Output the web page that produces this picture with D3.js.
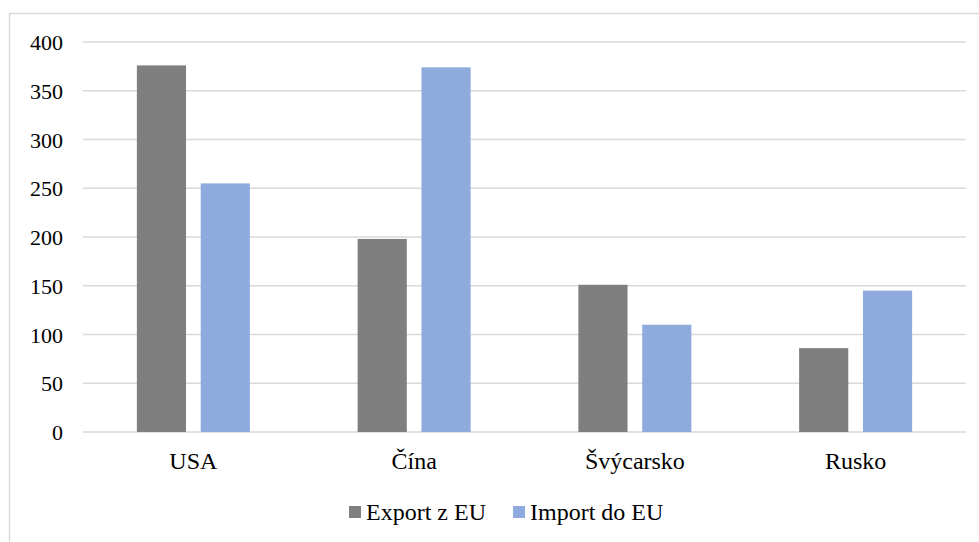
<!DOCTYPE html>
<html>
<head>
<meta charset="utf-8">
<script src="https://cdn.jsdelivr.net/npm/d3@7"></script>
<style>
  body { margin: 0; background: #fff; }
</style>
</head>
<body>
<svg id="canvas"></svg>
<script>
const categories = ['USA', 'Čína', 'Švýcarsko', 'Rusko'];
const seriesNames = ['Export z EU', 'Import do EU'];
const exportValues = [376, 198, 151, 86];
const importValues = [255, 374, 110, 145];
const yTicks = [0, 50, 100, 150, 200, 250, 300, 350, 400];

const width = 979;
const height = 542;
const plot = { left: 83, right: 966, top: 42, bottom: 432 };
const colors = ['#7f7f7f', '#8faadc'];
const fontFamily = 'Liberation Serif';

const svg = d3.select('#canvas')
    .attr('width', width)
    .attr('height', height);

// chart area border (cropped on the right and bottom)
svg.append('path')
    .attr('d', 'M9.5,' + (height + 2) + ' V13.5 H' + (width + 2))
    .attr('fill', 'none')
    .attr('stroke', '#d9d9d9')
    .attr('stroke-width', 1.5);

const xScale = d3.scaleBand()
    .domain(categories)
    .range([plot.left, plot.right]);

const innerScale = d3.scaleBand()
    .domain(seriesNames)
    .range([0, 113])
    .paddingInner(0.23);

const yScale = d3.scaleLinear()
    .domain([0, 400])
    .range([plot.bottom, plot.top]);

// gridlines
svg.append('g')
    .selectAll('line')
    .data(yTicks)
    .enter()
    .append('line')
    .attr('x1', plot.left)
    .attr('x2', plot.right)
    .attr('y1', d => yScale(d))
    .attr('y2', d => yScale(d))
    .attr('stroke', '#d9d9d9')
    .attr('stroke-width', 1.5);

// y labels
svg.selectAll('text.ylab')
    .data(yTicks)
    .enter()
    .append('text')
    .attr('class', 'ylab')
    .attr('x', 63)
    .attr('y', d => yScale(d) + 8)
    .attr('text-anchor', 'end')
    .style('font-family', fontFamily)
    .style('font-size', '22px')
    .text(d => d);

// bars
const rows = categories.map((c, i) => ({ cat: c, values: [exportValues[i], importValues[i]] }));

const groups = svg.append('g')
    .selectAll('g')
    .data(rows)
    .enter()
    .append('g')
    .attr('transform', d => 'translate(' + (xScale(d.cat) + xScale.bandwidth() / 2 - 56.5) + ',0)');

groups.selectAll('rect')
    .data(d => d.values.map((v, j) => ({ name: seriesNames[j], value: v, j: j })))
    .enter()
    .append('rect')
    .attr('x', d => innerScale(d.name))
    .attr('width', innerScale.bandwidth())
    .attr('y', d => yScale(d.value))
    .attr('height', d => yScale(0) - yScale(d.value))
    .attr('fill', d => colors[d.j]);

// category labels
svg.selectAll('text.xlab')
    .data(categories)
    .enter()
    .append('text')
    .attr('class', 'xlab')
    .attr('x', d => xScale(d) + xScale.bandwidth() / 2)
    .attr('y', 469)
    .attr('text-anchor', 'middle')
    .style('font-family', fontFamily)
    .style('font-size', '24px')
    .text(d => d);

// legend
const legendX = [349, 513];
const legend = svg.append('g')
    .selectAll('g')
    .data(seriesNames)
    .enter()
    .append('g')
    .attr('transform', (d, i) => 'translate(' + legendX[i] + ', 506)');

legend.append('rect')
    .attr('width', 12)
    .attr('height', 12)
    .attr('fill', (d, i) => colors[i]);

legend.append('text')
    .attr('x', 17)
    .attr('y', 13.5)
    .style('font-family', fontFamily)
    .style('font-size', '24px')
    .text(d => d);
</script>
</body>
</html>
